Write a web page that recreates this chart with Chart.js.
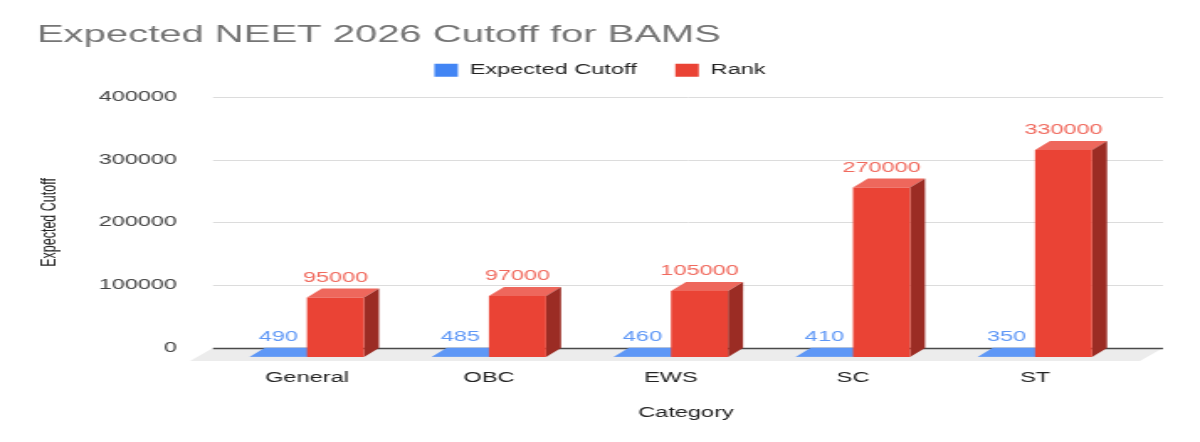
<!DOCTYPE html>
<html>
<head>
<meta charset="utf-8">
<title>Expected NEET 2026 Cutoff for BAMS</title>
<script src="https://cdn.jsdelivr.net/npm/chart.js@4.4.1/dist/chart.umd.min.js"></script>
<style>
  html, body { margin: 0; padding: 0; background: #fff; }
</style>
</head>
<body>
<!-- drawn narrow, then stretched sideways like the reference picture -->
<canvas id="mycanvas" width="714" height="442" style="width:1200px;height:442px"></canvas>
<script>
var categories = ['General', 'OBC', 'EWS', 'SC', 'ST'];
var expectedCutoff = [490, 485, 460, 410, 350];
var rank = [95000, 97000, 105000, 270000, 330000];
var yTicks = [0, 100000, 200000, 300000, 400000];

var S = 1200 / 714;      // horizontal stretch
var DX = -15 / S, DY = 9; // front plane offset of the 3d bars
var frontColors = ['#4285f4', '#ea4335'];
var topColors = ['#5e97f6', '#ee675c'];
var sideColors = ['#3367d6', '#9b2c24'];
var labelColors = ['#5e97f6', '#f06a5e'];

function poly(ctx, pts) {
	ctx.beginPath();
	ctx.moveTo(pts[0][0], pts[0][1]);
	for (var i = 1; i < pts.length; i++) ctx.lineTo(pts[i][0], pts[i][1]);
	ctx.closePath();
	ctx.fill();
}

var bars3d = {
	id: 'bars3d',
	afterLayout: function(chart) {
		// legend sits a little right of the layout centre in the reference
		chart.legend.left += 6.5;
		chart.legend.right += 6.5;
	},
	beforeDatasetsDraw: function(chart) {
		var ctx = chart.ctx, y = chart.scales.y;
		var base = y.getPixelForValue(0);
		var gl = 213 / S, gr = 1163 / S;
		ctx.save();
		// floor
		ctx.fillStyle = '#ececec';
		poly(ctx, [[gl, base], [gr, base], [gr - 23 / S, base + 13], [gl - 23 / S, base + 13]]);
		// grid lines
		y.ticks.forEach(function(t) {
			var py = Math.round(y.getPixelForValue(t.value)) + 0.5;
			ctx.strokeStyle = t.value === 0 ? '#4a4a4a' : '#dcdcdc';
			ctx.lineWidth = t.value === 0 ? 1.5 : 1;
			ctx.beginPath();
			ctx.moveTo(gl, py);
			ctx.lineTo(gr, py);
			ctx.stroke();
		});
		ctx.restore();

		ctx.save();
		ctx.translate(DX, DY);
		var d = 15 / S, h = 9;
		chart.data.datasets.forEach(function(ds, di) {
			chart.getDatasetMeta(di).data.forEach(function(bar) {
				var p = bar.getProps(['x', 'y', 'width', 'base'], true);
				var l = p.x - p.width / 2, r = p.x + p.width / 2;
				ctx.fillStyle = topColors[di];
				poly(ctx, [[l, p.y], [r, p.y], [r + d, p.y - h], [l + d, p.y - h]]);
				ctx.fillStyle = sideColors[di];
				poly(ctx, [[r, p.y], [r + d, p.y - h], [r + d, p.base - h], [r, p.base]]);
			});
		});
		// stay translated while the front faces are drawn
	},
	afterDatasetsDraw: function(chart) {
		var ctx = chart.ctx;
		ctx.restore();
		ctx.save();
		ctx.font = '14px "Liberation Sans", Arial, sans-serif';
		ctx.textAlign = 'center';
		ctx.textBaseline = 'middle';
		chart.data.datasets.forEach(function(ds, di) {
			ctx.fillStyle = labelColors[di];
			chart.getDatasetMeta(di).data.forEach(function(bar, i) {
				ctx.fillText(String(ds.data[i]), bar.x + DX, bar.y + DY - 19.5);
			});
		});
		ctx.restore();
	}
};

Chart.defaults.font.family = '"Liberation Sans", Arial, sans-serif';

var ctx = document.getElementById('mycanvas');
var barGraph = new Chart(ctx, {
	type: 'bar',
	data: {
		labels: categories,
		datasets: [
			{ label: 'Expected Cutoff', data: expectedCutoff, backgroundColor: frontColors[0], clip: false },
			{ label: 'Rank', data: rank, backgroundColor: frontColors[1], clip: false }
		]
	},
	plugins: [bars3d],
	options: {
		responsive: false,
		animation: false,
		devicePixelRatio: 1,
		layout: { padding: { top: 0, left: 22, right: 35.1, bottom: 0 } },
		datasets: { bar: { barPercentage: 1, categoryPercentage: 0.627 } },
		plugins: {
			title: {
				display: true,
				text: 'Expected NEET 2026 Cutoff for BAMS',
				align: 'start',
				color: '#757575',
				font: { size: 23.8, weight: 'normal' },
				padding: { top: 21, bottom: -9.4 }
			},
			subtitle: {
				display: true,
				text: '',
				weight: 500,
				font: { size: 1 },
				padding: { top: 8.6, bottom: 0 }
			},
			legend: {
				position: 'top',
				labels: {
					boxWidth: 14,
					boxHeight: 13,
					padding: 23,
					color: '#222',
					font: { size: 14 }
				}
			},
			tooltip: { enabled: false }
		},
		scales: {
			x: {
				grid: { display: false, drawTicks: false },
				border: { display: false },
				ticks: { color: '#222', font: { size: 14 }, padding: 22, labelOffset: DX },
				title: { display: true, text: 'Category', color: '#222', font: { size: 14 }, padding: { top: 0, bottom: 20.6 } },
				afterFit: function(s) { s.height = 94; }
			},
			y: {
				min: 0,
				max: 400000,
				grid: { display: false, drawTicks: false },
				border: { display: false },
				ticks: {
					color: '#444',
					font: { size: 14 },
					padding: 32,
					callback: function(v) { return String(v); }
				},
				afterBuildTicks: function(s) { s.ticks = yTicks.map(function(v) { return { value: v }; }); },
				title: { display: true, text: 'Expected Cutoff', color: '#222', font: { size: 12.5 }, padding: { top: 0, bottom: 0 } },
				afterFit: function(s) { s.width = 115.4; }
			}
		}
	}
});
</script>
</body>
</html>
